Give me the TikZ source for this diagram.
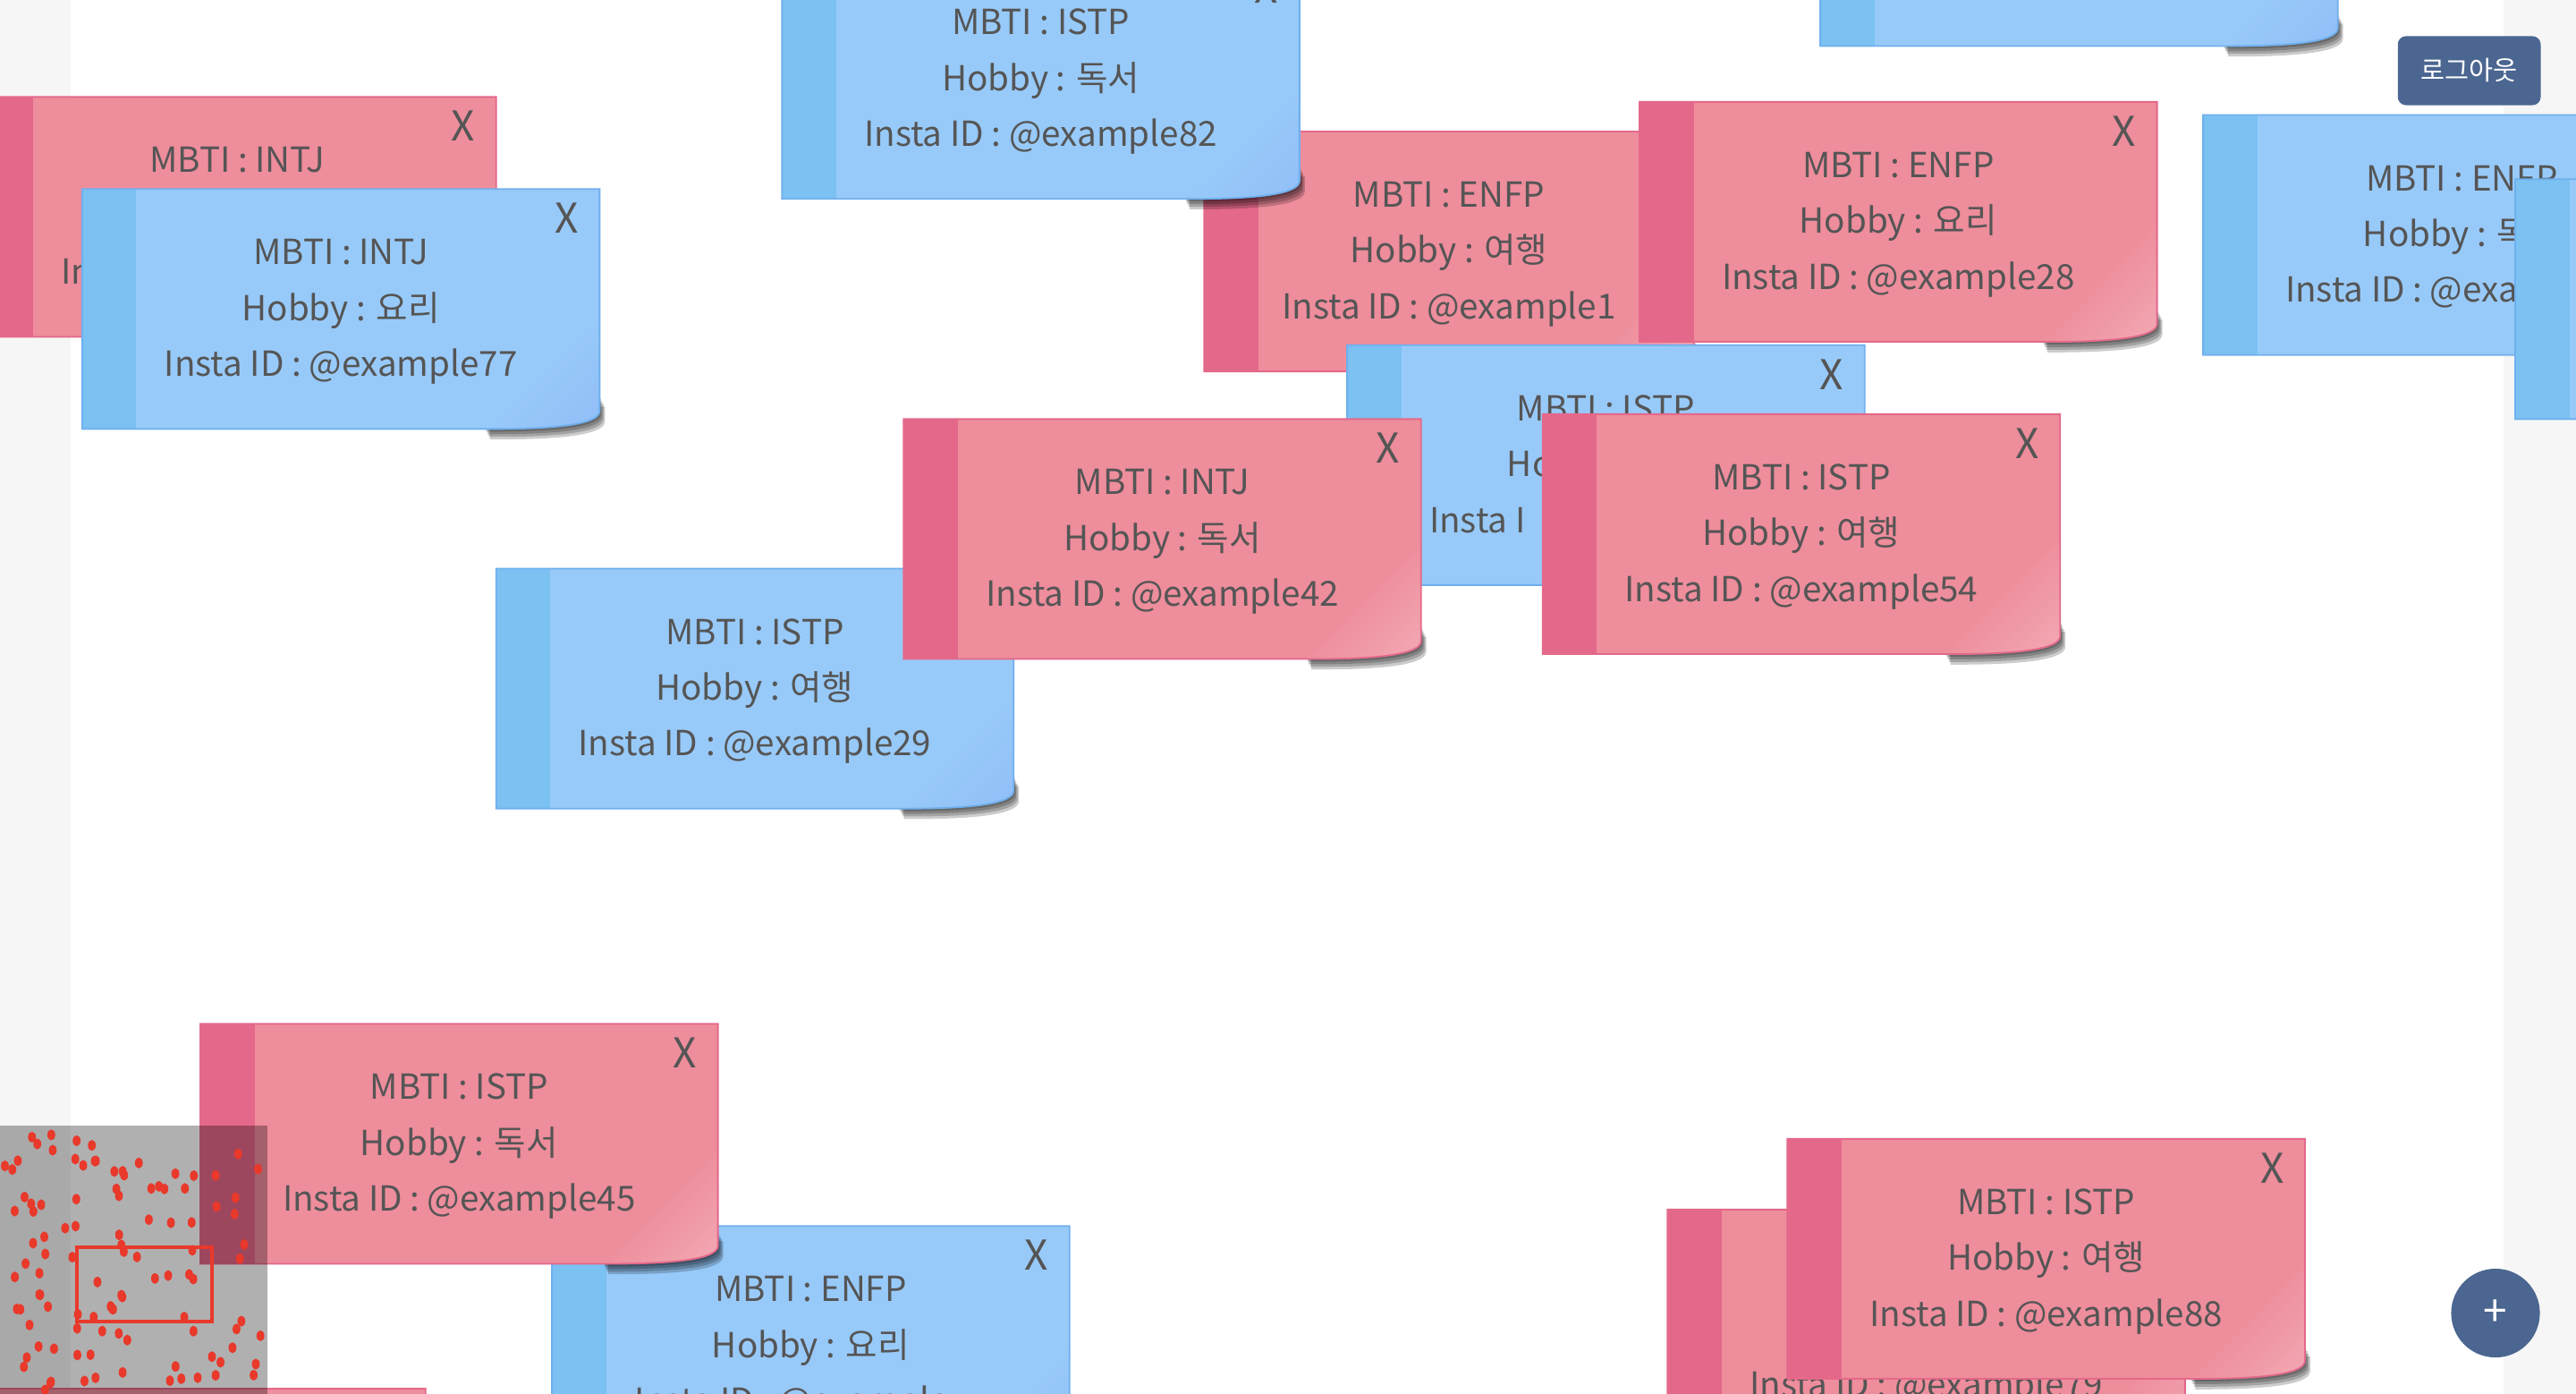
\documentclass[tikz,border=0pt]{standalone}
\usepackage{fontspec}
\setmainfont{Noto Sans CJK KR}
\newfontfamily\hangul{Noto Sans CJK KR}
\definecolor{rfill}{HTML}{EE8D9C}
\definecolor{rstrip}{HTML}{E4688A}
\definecolor{rline}{HTML}{E4688A}
\definecolor{rlight}{HTML}{F7CDD2}
\definecolor{bfill}{HTML}{98CAF9}
\definecolor{bstrip}{HTML}{7BC1F2}
\definecolor{bline}{HTML}{6FB0EE}
\definecolor{blight}{HTML}{88AEF5}
\definecolor{tumma}{HTML}{555555}
\definecolor{sivu}{HTML}{F6F6F6}
\definecolor{nappi}{HTML}{4B6690}
\definecolor{piste}{HTML}{E8392B}
\pgfdeclarehorizontalshading{rcurl}{100bp}{color(0bp)=(rfill); color(74bp)=(rfill); color(100bp)=(rlight)}
\pgfdeclarehorizontalshading{bcurl}{100bp}{color(0bp)=(bfill); color(74bp)=(bfill); color(100bp)=(blight)}
\begin{document}
\begin{tikzpicture}[x=1pt,y=-1pt,
rivi/.style={font=\fontsize{21}{25}\selectfont,text=tumma,anchor=base,inner sep=0},
ruksi/.style={font=\fontsize{25}{25}\selectfont,text=tumma,anchor=base,inner sep=0}]
\newcommand\postit[8][315]{
\begin{scope}[shift={(#3,#4)}]
\foreach \s in {1,2,3,4}
\fill[black,opacity=0.2,shift={(0.8*\s,1.6*\s)}] (#1-70,126) -- (#1,126) -- (#1,135) .. controls (#1,143) and (#1-25,146) .. (#1-65,146) -- (#1-70,146) -- cycle;
\shade[shading=#5curl,shading angle=-45] (0,0) -- (#1,0) -- (#1,135) .. controls (#1,143) and (#1-25,146) .. (#1-65,146) -- (0,146) -- cycle;
\fill[#5strip] (0,0) rectangle (33,146);
\draw[#5line,line width=1] (0,0) -- (#1,0) -- (#1,135) .. controls (#1,143) and (#1-25,146) .. (#1-65,146) -- (0,146) -- cycle;
\node[rivi] (#2-m) at (#1/2,46) {#6};
\node[rivi] (#2-h) at (#1/2,80) {#7};
\node[rivi] (#2-i) at (#1/2,114) {#8};
\node[ruksi] (#2-x) at (#1-20,27) {X};
\end{scope}
}
\useasboundingbox (0,0) rectangle (1568,848);
\clip (0,0) rectangle (1568,848);
\fill[white] (0,0) rectangle (1568,848);
\fill[sivu] (0,0) rectangle (43,848);
\fill[sivu] (1524,0) rectangle (1568,848);
\postit{a}{-13}{59}{r}{MBTI : INTJ}{}{In\hphantom{sta ID : @example00}}
\postit{b}{50}{115}{b}{MBTI : INTJ}{Hobby : {\hangul 요리}}{Insta ID : @example77}
\postit{d}{1108}{-118}{b}{}{}{}
\postit[298]{e}{733}{80}{r}{MBTI : ENFP}{Hobby : {\hangul 여행}}{Insta ID : @example1}
\postit{c}{476}{-25}{b}{MBTI : ISTP}{Hobby : {\hangul 독서}}{Insta ID : @example82}
\postit{f}{998}{62}{r}{MBTI : ENFP}{Hobby : {\hangul 요리}}{Insta ID : @example28}
\postit{g}{1341}{70}{b}{MBTI : ENFP}{Hobby : {\hangul 독}\hphantom{\hangul 서}}{Insta ID : @exa\hphantom{mple00}}
\postit{h}{1531}{109}{b}{}{}{}
\postit{i}{820}{210}{b}{MBTI : ISTP}{Ho\hphantom{bby : \hangul 독서}}{Insta I\hphantom{D : @example00}}
\postit{j}{939}{252}{r}{MBTI : ISTP}{Hobby : {\hangul 여행}}{Insta ID : @example54}
\postit{l}{302}{346}{b}{MBTI : ISTP}{Hobby : {\hangul 여행}}{Insta ID : @example29}
\postit{k}{550}{255}{r}{MBTI : INTJ}{Hobby : {\hangul 독서}}{Insta ID : @example42}
\postit{n}{336}{746}{b}{MBTI : ENFP}{Hobby : {\hangul 요리}}{Insta ID : @example\hphantom{00}}
\postit{m}{122}{623}{r}{MBTI : ISTP}{Hobby : {\hangul 독서}}{Insta ID : @example45}
\postit{q}{-56}{845}{r}{}{}{}
\postit{o}{1015}{736}{r}{}{}{Insta ID : @example79}
\postit{p}{1088}{693}{r}{MBTI : ISTP}{Hobby : {\hangul 여행}}{Insta ID : @example88}
\node[fill=nappi,rounded corners=5,text=white,minimum width=87,minimum height=42,font=\fontsize{16}{16}\selectfont] (ulos) at (1503,43) {로그아웃};
\node[circle,fill=nappi,minimum size=54,text=white,font=\fontsize{26}{26}\selectfont] (lisaa) at (1519,799) {+};
\fill[black,opacity=0.31] (0,685) rectangle (163,848);
\pgfmathsetseed{7}
\foreach \k in {1,...,105}
\fill[piste] ({3+158*rnd},{689+157*rnd}) ellipse (2.4 and 3.3);
\draw[piste,line width=2] (47,759) rectangle (129,804);
\end{tikzpicture}
\end{document}
